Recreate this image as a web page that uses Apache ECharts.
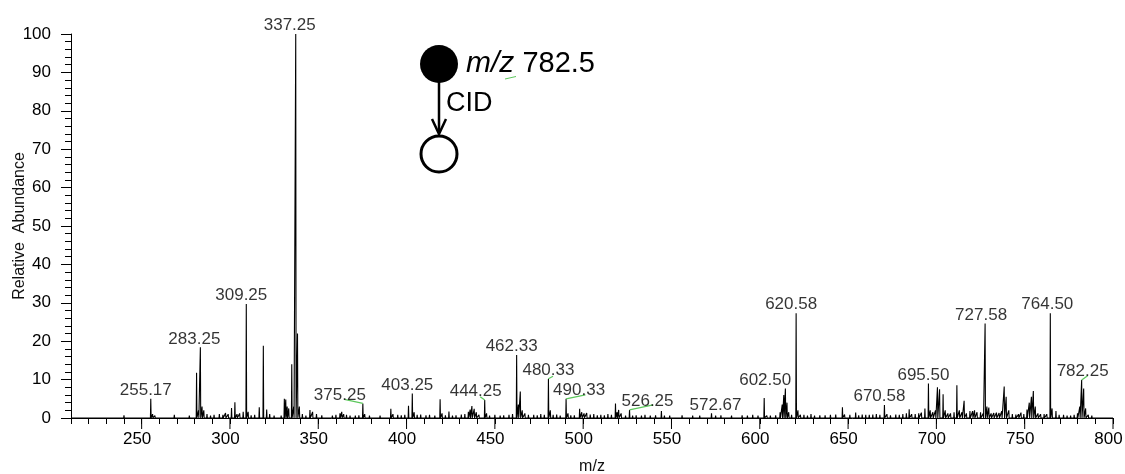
<!DOCTYPE html>
<html><head><meta charset="utf-8">
<script src="https://cdn.jsdelivr.net/npm/echarts@6/dist/echarts.min.js"></script>
<style>html,body{margin:0;padding:0;background:#fff}#c{width:1125px;height:474px}</style>
</head><body><div id="c"></div>
<script>
// Peak list (m/z) and relative abundance (%)
const peakMz = [
215,219,224,228,233,236,240,242,245,248,251,255.17,256.2,257.5,260,263,266,268.5,271,274,277,279,
281.1,282.2,283.25,284.2,285.2,287,289,291,294,296,297.5,299,300.9,302.8,304,305.5,307.5,309.25,310.3,312,314,316.6,318.9,320.8,322.5,325,327,329,
330.8,331.6,332.4,333.3,335.0,336.1,337.25,338.25,339.3,341,343,345.3,346.8,349,352,355,358,360,362.3,363.3,364.4,366,368,371,373,375.25,376.3,379,382,385,388,
391.1,392.3,395,397,399,401.1,403.25,404.3,406,408,411,413,416,419,420.1,422,424,426,428,431,433,435,436,437,438.3,439.5,441,444.25,445.3,447,450,453,455,458,460,
462.33,463.3,464.4,465.5,467,469,472,474,476,478,480.33,481.4,483,485,487,490.33,491.4,493,495,498,499.2,500.5,502,504,506,508,510,512,514,516,518.3,519.2,520.1,521.5,524,526.25,528,530,533,535,538,541,544.3,546,549,552,556,559,562,566,569,572.67,575,578,581,584,587,590,593,596,599,
602.5,604,606,609,611.5,612.7,613.6,614.5,615.4,616.4,618,620.58,621.6,623,625,627,629,631,634,637,640,643,646.8,648,651,654.3,656,658,660,662,664,666,668,670.58,672,674,677,679,681,683,684.6,686,688,690,691.5,693.5,
695.5,696.5,698,699.5,700.6,701.8,703.8,705,706.5,708,710,711.6,713,714.5,715.7,717,719,720.5,721.6,723,725,726.5,727.58,728.6,729.7,731,732.5,734,735.5,737,738.4,739.5,741,743,745,746.5,747.9,749.5,751.3,752.6,753.8,754.9,756,757.5,759,761,762.5,
764.5,765.5,767.7,769.5,772,774,776,778,779.9,781.2,782.25,783.4,784.5,786,788,791,794,797
];
const peakIntensity = [
0.3,0.3,0.4,0.3,0.4,0.5,0.7,0.4,0.5,0.4,0.4,5.0,1.0,0.6,0.5,0.4,0.5,0.8,0.4,0.5,0.6,0.5,
11.8,2.0,18.4,3.0,2.0,1.0,0.6,0.8,1.0,0.8,1.3,1.0,2.6,4.1,1.0,1.2,1.6,29.7,1.6,0.7,0.8,2.8,18.8,2.2,1.0,0.6,0.5,0.6,
5.0,4.8,3.0,2.5,14.0,3.0,100,22.0,3.0,1.0,0.6,2.1,1.6,1.0,0.7,0.5,0.6,0.8,1.2,1.6,1.0,0.8,0.6,0.6,0.7,3.8,1.0,0.6,0.5,0.6,0.5,
2.4,1.0,0.8,0.7,0.8,3.2,6.4,1.5,0.8,0.9,0.7,0.8,0.6,4.9,1.2,0.7,1.7,0.6,0.7,0.9,1.0,1.6,2.2,3.1,2.4,1.5,0.8,4.7,1.2,0.6,0.8,0.6,0.7,0.8,1.0,
16.4,3.5,6.9,2.0,1.2,0.8,0.8,0.7,1.0,0.8,10.2,2.0,0.8,0.9,0.6,5.0,1.2,0.7,0.7,2.4,1.5,1.2,1.3,0.9,1.0,0.7,0.8,0.7,1.0,0.8,3.8,1.5,2.1,1.2,0.6,2.1,0.6,0.7,0.6,0.8,0.6,0.7,1.8,0.6,0.6,0.5,0.7,0.5,0.6,0.6,0.5,1.2,0.6,0.7,0.5,0.6,0.5,0.7,0.6,0.8,0.6,
5.2,0.6,0.6,0.7,1.5,3.5,6.0,7.7,4.0,1.5,0.8,27.3,2.0,0.8,0.8,0.6,1.0,0.6,0.7,0.7,0.8,0.9,2.8,0.9,0.8,1.4,0.7,0.9,0.8,0.8,0.9,1.0,0.8,3.4,1.0,0.7,0.9,0.8,1.0,1.2,2.3,1.0,1.0,1.2,1.4,2.5,
9.0,2.0,1.5,2.0,8.0,7.5,6.2,2.0,1.2,1.2,1.5,8.5,2.0,1.5,4.5,1.2,1.8,1.8,2.0,1.5,1.5,1.2,24.6,3.0,2.7,1.2,1.3,1.4,1.3,1.8,8.2,5.5,2.0,1.0,0.9,1.0,1.4,1.0,2.2,4.0,5.5,7.0,3.0,1.2,1.0,1.0,1.0,
27.3,2.5,1.8,0.8,0.8,0.6,0.6,0.8,1.2,3.0,9.9,7.7,2.5,0.8,0.6,0.5,0.4,0.4
];
// Annotated peaks
const labelText = ['255.17','283.25','309.25','337.25','375.25','403.25','444.25','462.33','480.33','490.33','526.25','572.67','602.50','620.58','670.58','695.50','727.58','764.50','782.25'];
const leaderLabels = ['375.25','444.25','480.33','490.33','526.25','782.25'];
const xTickLabels = [250,300,350,400,450,500,550,600,650,700,750,800];
const yTickLabels = [0,10,20,30,40,50,60,70,80,90,100];

// label placement tweaks (pixels), styling only
const labelShift = {
 '255.17':[-5,0],'283.25':[-6,0],'309.25':[-5,0],'337.25':[-6,0],'375.25':[-23,0],'403.25':[-5,0],
 '444.25':[-9,0],'462.33':[-5,0],'480.33':[0,0],'490.33':[13,0],'526.25':[18,0],'572.67':[4,0],
 '602.50':[1,-9],'620.58':[-5,0],'670.58':[-5,0],'695.50':[-5,0],'727.58':[-4,0],'764.50':[-3,0],'782.25':[1,0]
};
// leader line end points, pixel offsets from the peak top (styling only)
const leaderEnd = {
 '375.25':[-18.5,-4],'444.25':[-4.5,-3.3],'480.33':[4.6,-2.6],'490.33':[19.3,-4],'526.25':[23.6,-5],'782.25':[6,-4.3]
};

// build stick spectrum
const idx = peakMz.map((m,i)=>i).sort((a,b)=>peakMz[a]-peakMz[b]);
const spec = [[210,0]];
const hw = 0.2;
idx.forEach(i=>{
  const m = peakMz[i], h = peakIntensity[i];
  spec.push([m-hw,0],[m,h],[m+hw,0]);
});
spec.push([800,0]);

function intensityAt(mz){
  let best=-1, bd=1e9;
  peakMz.forEach((m,i)=>{const d=Math.abs(m-mz); if(d<bd){bd=d;best=i;}});
  return peakIntensity[best];
}
const labelData = labelText.map(t=>{
  const m = parseFloat(t);
  return {name:t, value:[m, intensityAt(m)]};
});
const leaderData = leaderLabels.map(t=>{
  const m = parseFloat(t);
  return {name:t, value:[m, intensityAt(m)]};
});

const FONT = 'Liberation Sans, Arial, sans-serif';
const chart = echarts.init(document.getElementById('c'));
chart.setOption({
  animation:false,
  backgroundColor:'#fff',
  grid:{left:71, right:12, top:34, bottom:56, containLabel:false, outerBoundsMode:'none'},
  xAxis:{
    type:'value', min:210, max:800, interval:10,
    name:'m/z', nameLocation:'middle', nameGap:41, nameMoveOverlap:false,
    nameTextStyle:{fontFamily:FONT, fontSize:16, color:'#111'},
    axisLine:{lineStyle:{color:'#000', width:1}},
    axisTick:{length:6, lineStyle:{color:'#000'}},
    splitLine:{show:false},
    axisLabel:{
      fontFamily:FONT, fontSize:17, color:'#000', margin:13, padding:[0,9,0,0],
      showMinLabel:true, showMaxLabel:true,
      formatter:v=> xTickLabels.indexOf(v)>=0 ? String(v) : ''
    }
  },
  yAxis:{
    type:'value', min:0, max:100, interval:10,
    name:'Relative  Abundance', nameLocation:'middle', nameGap:43, nameRotate:90, nameMoveOverlap:false,
    nameTextStyle:{fontFamily:FONT, fontSize:16, color:'#111'},
    axisLine:{show:true, lineStyle:{color:'#000', width:1}},
    axisTick:{show:true, length:10, lineStyle:{color:'#000'}},
    minorTick:{show:true, splitNumber:5, length:6, lineStyle:{color:'#000'}},
    splitLine:{show:false},
    axisLabel:{fontFamily:FONT, fontSize:17, color:'#000', margin:20,
      formatter:v=> yTickLabels.indexOf(v)>=0 ? String(v) : ''}
  },
  series:[
    {
      type:'line', data:spec, symbol:'none', silent:true,
      lineStyle:{color:'#000', width:1.1}, z:3
    },
    {
      type:'custom', silent:true, clip:false, z:4,
      data:xTickLabels.map(v=>[v,0]),
      encode:{x:0,y:1},
      renderItem:(params, api)=>{
        const p = api.coord([api.value(0), 0]);
        return {type:'line', shape:{x1:p[0], y1:p[1], x2:p[0], y2:p[1]+11}, style:{stroke:'#000', lineWidth:1}};
      }
    },
    {
      type:'custom', silent:true, clip:false, z:4,
      data:leaderData,
      encode:{x:0,y:1},
      renderItem:(params, api)=>{
        const p = api.coord([api.value(0), api.value(1)]);
        const e = leaderEnd[leaderLabels[params.dataIndex]];
        return {type:'line', shape:{x1:p[0], y1:p[1], x2:p[0]+e[0], y2:p[1]+e[1]}, style:{stroke:'#5cc75c', lineWidth:1.2}};
      }
    },
    {
      type:'scatter', data:labelData, symbolSize:0, silent:true, z:5,
      label:{show:true, position:'top', distance:0, formatter:'{b}',
        fontFamily:FONT, fontSize:17, color:'#000'},
      labelLayout:p=>{ const s = labelShift[labelText[p.dataIndex]] || [0,0]; return {dx:s[0], dy:s[1]}; }
    }
  ],
  graphic:[
    {type:'circle', shape:{cx:439, cy:64, r:19}, style:{fill:'#000'}},
    {type:'line', shape:{x1:439, y1:80, x2:439, y2:133}, style:{stroke:'#000', lineWidth:2.5}},
    {type:'polyline', shape:{points:[[432,119],[439,134],[446,119]]}, style:{stroke:'#000', lineWidth:2.5, fill:null}},
    {type:'circle', shape:{cx:439, cy:154, r:18}, style:{fill:'#fff', stroke:'#000', lineWidth:3}},
    {type:'text', left:466, top:49, style:{
      text:'{i|m/z} 782.5', fontFamily:FONT, fontSize:29, fill:'#000',
      rich:{i:{fontStyle:'italic', fontFamily:FONT, fontSize:30, fill:'#000'}}
    }},
    {type:'line', shape:{x1:505, y1:79, x2:516, y2:76.5}, style:{stroke:'#5cc75c', lineWidth:1}},
    {type:'text', left:446, top:90, style:{text:'CID', fontFamily:FONT, fontSize:27, fill:'#000'}}
  ]
});
</script>
</body></html>
